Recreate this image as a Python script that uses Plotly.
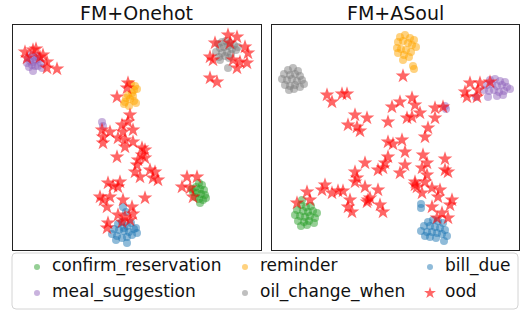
import plotly.graph_objects as go

# ---------------- data (t-SNE style embedding coordinates) ----------------
classes = ["confirm_reservation", "reminder", "bill_due", "meal_suggestion", "oil_change_when", "ood"]
colors = {"confirm_reservation": "#2ca02c", "reminder": "#ffa500", "bill_due": "#1f77b4",
          "meal_suggestion": "#9467bd", "oil_change_when": "#808080", "ood": "#ff0000"}

# Left panel: FM+Onehot
L_meal = [(28,58),(31,55),(34,57),(37,56),(30,61),(33,62),(36,60),(39,59),(27,63),(32,65),(35,66),
          (41,63),(38,66),(29,67),(33,71),(42,68),(102,122),(103,126)]
L_oil = [(218,44),(222,42),(226,41),(230,43),(234,45),(220,48),(224,47),(228,46),(232,49),(236,50),
         (216,52),(222,53),(227,52),(231,54),(225,56),(219,57),(238,47),(229,58),(220,60),(228,68)]
L_rem = [(131,84),(135,86),(134,90),(137,89),(132,93),(128,95),(126,98),(130,99),(134,101),(136,103),
         (124,104),(129,106),(125,102),(133,96)]
L_bill = [(123,207),(126,212),(118,224),(122,222),(127,226),(131,223),(114,229),(119,230),(124,231),
          (129,232),(134,229),(112,234),(117,236),(122,238),(127,237),(132,235),(136,228),(137,233),
          (127,243),(116,240),(124,228)]
L_conf = [(199,183),(202,185),(196,187),(200,189),(204,190),(193,192),(197,193),(201,194),(205,195),
          (195,197),(199,199),(203,200),(200,203),(192,189),(206,198)]
L_ood = [(25,52),(33,50),(43,55),(47,62),(47,68),(57,69),(40,57),(27,58),(36,49),
         (228,35),(237,37),(215,43),(245,47),(248,53),(210,57),(213,60),(233,60),(240,62),(237,68),
         (247,63),(210,78),(217,82),(230,43),
         (128,83),(127,88),(117,97),
         (130,115),(128,122),(122,125),(110,132),(102,130),(103,137),(103,143),(123,132),(133,130),
         (118,138),(125,140),(133,142),(125,147),(142,148),(145,150),(142,155),(117,157),(138,160),
         (145,158),(137,165),(135,172),(140,177),(150,170),(155,172),(153,178),(158,180),(108,183),
         (113,186),(120,182),(118,187),(100,197),(110,197),(103,200),(107,207),(123,200),(132,207),
         (145,198),(118,215),(125,217),(130,220),(122,222),(108,223),(107,228),(133,214),
         (187,177),(197,177),(182,187),(190,188),(193,197)]

# Right panel: FM+ASoul
R_rem = [(400,37),(405,35),(410,38),(414,40),(398,42),(403,41),(408,43),(412,45),(416,47),(397,48),
         (401,49),(406,50),(411,52),(398,53),(404,55),(409,57),(403,60),(413,66),(414,69)]
R_oil = [(288,70),(293,68),(298,71),(284,74),(290,75),(295,74),(300,76),(282,79),(287,80),(292,79),
         (297,81),(302,80),(285,85),(290,86),(295,85),(300,87),(289,90),(294,89),(304,84)]
R_meal = [(490,80),(495,79),(500,81),(505,82),(487,85),(492,84),(497,86),(502,85),(507,87),(510,89),
          (484,90),(489,91),(494,90),(499,92),(504,91),(497,96),(488,97),(476,97),(503,95),
          (445,106),(446,109)]
R_bill = [(421,204),(421,208),(428,222),(433,220),(438,221),(443,223),(424,226),(430,226),(435,227),
          (440,228),(445,230),(421,231),(427,232),(432,232),(437,233),(442,234),(447,236),(430,237),
          (436,238),(444,241),(425,236)]
R_conf = [(302,200),(301,205),(306,207),(311,206),(297,210),(303,211),(308,212),(313,211),(317,213),
          (295,215),(300,216),(305,217),(310,216),(315,218),(298,221),(304,222),(309,221),(314,223),
          (301,226),(307,225)]
R_ood = [(403,76),(470,83),(480,83),(465,92),(467,97),(478,90),(490,82),(477,97),
         (327,95),(332,102),(342,94),(347,94),(355,115),(367,118),(348,125),(357,127),(360,131),
         (388,122),(392,107),(400,102),(412,98),(415,105),(420,113),(407,118),(412,117),(435,108),
         (443,107),(435,118),(428,128),(425,137),(388,142),(393,144),(402,140),(405,152),(423,155),
         (427,163),(445,159),(448,172),(445,170),(388,157),(385,163),(383,168),(378,170),(405,165),
         (400,173),(422,168),(427,175),(425,182),(415,182),(415,185),(417,187),(422,193),(432,188),
         (440,190),(438,197),(452,200),(450,205),(432,207),(442,213),(448,218),(437,218),(365,163),
         (355,172),(357,178),(355,182),(365,187),(378,190),(370,198),(367,202),(380,205),(383,212),
         (368,200),(350,200),(348,207),(352,212),(325,185),(322,190),(332,193),(338,191),(343,191),
         (307,192),(297,203),(310,200)]

left_data = {"confirm_reservation": L_conf, "reminder": L_rem, "bill_due": L_bill,
             "meal_suggestion": L_meal, "oil_change_when": L_oil, "ood": L_ood}
right_data = {"confirm_reservation": R_conf, "reminder": R_rem, "bill_due": R_bill,
              "meal_suggestion": R_meal, "oil_change_when": R_oil, "ood": R_ood}
titles = ["FM+Onehot", "FM+ASoul"]

# legend layout (columns x, rows y) in legend-axis units
leg_cols = [37, 245, 430]
leg_rows = [267, 293]
leg_order = [["confirm_reservation", "meal_suggestion"], ["reminder", "oil_change_when"], ["bill_due", "ood"]]

W, H = 521, 311
FONT = "DejaVu Sans"

fig = go.Figure()

def add_panel(data, xa, ya):
    for c in classes:
        pts = data[c]
        is_ood = c == "ood"
        fig.add_trace(go.Scatter(
            x=[p[0] for p in pts], y=[p[1] for p in pts], mode="markers",
            xaxis=xa, yaxis=ya, showlegend=False, hoverinfo="skip",
            marker=dict(symbol="star" if is_ood else "circle",
                        size=11 if is_ood else 8, color=colors[c],
                        opacity=0.6 if is_ood else 0.5, line=dict(width=0))))

add_panel(left_data, "x", "y")
add_panel(right_data, "x2", "y2")

# legend drawn on its own full-figure axis
for ci, col in enumerate(leg_order):
    for ri, c in enumerate(col):
        is_ood = c == "ood"
        fig.add_trace(go.Scatter(
            x=[leg_cols[ci]], y=[leg_rows[ri]], mode="markers", xaxis="x3", yaxis="y3",
            showlegend=False, hoverinfo="skip",
            marker=dict(symbol="star" if is_ood else "circle", size=9 if is_ood else 6,
                        color=colors[c], opacity=0.6 if is_ood else 0.5, line=dict(width=0))))
        fig.add_trace(go.Scatter(
            x=[leg_cols[ci] + 15], y=[leg_rows[ri]], mode="text", text=[c],
            textposition="middle right", xaxis="x3", yaxis="y3", showlegend=False,
            hoverinfo="skip", textfont=dict(family=FONT, size=17, color="#111")))

def px_x(v):
    return v / W

def px_y(v):
    return 1 - v / H

axis_common = dict(showgrid=False, zeroline=False, showticklabels=False, ticks="",
                   showline=True, mirror=True, linecolor="#222", linewidth=1)

fig.update_layout(
    width=W, height=H, autosize=False, margin=dict(l=0, r=0, t=0, b=0, pad=0),
    paper_bgcolor="white", plot_bgcolor="rgba(0,0,0,0)",
    xaxis=dict(domain=[px_x(13), px_x(261)], range=[13, 261], anchor="y", **axis_common),
    yaxis=dict(domain=[px_y(250), px_y(25)], range=[250, 25], anchor="x", **axis_common),
    xaxis2=dict(domain=[px_x(272), px_x(519)], range=[272, 519], anchor="y2", **axis_common),
    yaxis2=dict(domain=[px_y(250), px_y(25)], range=[250, 25], anchor="x2", **axis_common),
    xaxis3=dict(domain=[0, 1], range=[0, W], visible=False, anchor="y3"),
    yaxis3=dict(domain=[0, 1], range=[H, 0], visible=False, anchor="x3"),
    annotations=[
        dict(text=titles[0], x=px_x(136.5), y=px_y(13), xref="paper", yref="paper",
             xanchor="center", yanchor="middle",
             showarrow=False, font=dict(family=FONT, size=19, color="#111")),
        dict(text=titles[1], x=px_x(395.5), y=px_y(13), xref="paper", yref="paper",
             xanchor="center", yanchor="middle",
             showarrow=False, font=dict(family=FONT, size=19, color="#111")),
    ],
    shapes=[dict(type="path", xref="x3", yref="y3", layer="below",
                 path="M 16 253 L 514 253 Q 518 253 518 257 L 518 305 Q 518 309 514 309 "
                      "L 16 309 Q 12 309 12 305 L 12 257 Q 12 253 16 253 Z",
                 line=dict(color="#d4d4d4", width=1), fillcolor="white")],
)

fig.write_html("out.html", config={"displayModeBar": False},
               post_script="document.body.style.margin='0';document.body.style.overflow='hidden';")
